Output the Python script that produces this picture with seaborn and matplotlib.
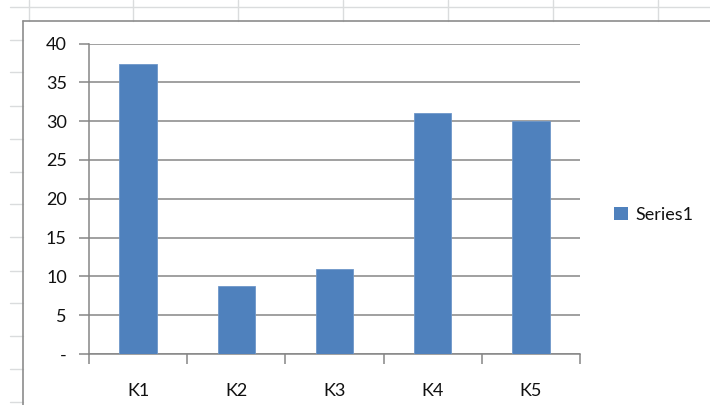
import matplotlib
matplotlib.use("Agg")
import matplotlib.pyplot as plt
from matplotlib.lines import Line2D
from matplotlib.patches import Patch
import seaborn as sns
import pandas as pd

categories = ["K1", "K2", "K3", "K4", "K5"]
values = [37.3, 8.8, 11.0, 31.0, 30.0]
series_name = "Series1"
y_ticks = [0, 5, 10, 15, 20, 25, 30, 35, 40]
y_tick_labels = ["-", "5", "10", "15", "20", "25", "30", "35", "40"]

sns.set_style("white")
plt.rcParams["font.family"] = ["Lato", "DejaVu Sans"]

W, H = 710, 405
fig = plt.figure(figsize=(W / 100, H / 100), dpi=100)
fig.patch.set_facecolor("white")

def fx(px):
    return px / W

def fy(py):
    return 1 - py / H

# Spreadsheet background grid
light = "#dadcdd"
fig.add_artist(Line2D([fx(10), fx(710)], [fy(7), fy(7)], color=light, lw=1))
for x in [29, 133, 238, 343, 448, 553, 658]:
    fig.add_artist(Line2D([fx(x), fx(x)], [fy(0), fy(21)], color=light, lw=1))
for y in [40, 72, 106, 139, 172, 204, 237, 271, 303, 336, 369, 402]:
    fig.add_artist(Line2D([fx(10), fx(23)], [fy(y), fy(y)], color=light, lw=1))
# Chart frame
frame = "#8c8c8c"
fig.add_artist(Line2D([fx(23), fx(710)], [fy(21), fy(21)], color=frame, lw=1.2))
fig.add_artist(Line2D([fx(23), fx(23)], [fy(21), fy(405)], color=frame, lw=1.2))

ax = fig.add_axes([fx(89), fy(354), fx(580) - fx(89), fy(43.5) - fy(354)])
df = pd.DataFrame({"cat": categories, "val": values})
sns.barplot(data=df, x="cat", y="val", color="#4F81BD", width=0.38,
            saturation=1, ax=ax, zorder=3, edgecolor="#6f97c9", linewidth=0.6)

ax.set_ylim(0, 40)
ax.set_xlim(-0.5, len(categories) - 0.5)
ax.set_yticks(y_ticks)
ax.set_yticklabels(y_tick_labels)
ax.set_xlabel("")
ax.set_ylabel("")

axis_c = "#868686"
ax.yaxis.grid(True, color=axis_c, lw=1.1, zorder=0)
ax.set_axisbelow(True)
for s in ["top", "right"]:
    ax.spines[s].set_visible(False)
for s in ["left", "bottom"]:
    ax.spines[s].set_color(axis_c)
    ax.spines[s].set_linewidth(1.1)

fs = 13
ax.tick_params(axis="y", which="major", length=7, width=1.1, color=axis_c,
               labelsize=fs, pad=9, labelcolor="#111111", left=True)
ax.set_xticks([i for i in range(len(categories))])
ax.set_xticklabels(categories)
ax.tick_params(axis="x", which="major", length=0, labelsize=fs, pad=21,
               labelcolor="#111111")
ax.set_xticks([i - 0.5 for i in range(len(categories) + 1)], minor=True)
ax.tick_params(axis="x", which="minor", length=7, width=1.1, color=axis_c,
               bottom=True)

handle = Patch(facecolor="#4F81BD", edgecolor="none")
leg = fig.legend([handle], [series_name], loc="center left",
                 bbox_to_anchor=(fx(614), fy(215)), frameon=False,
                 handlelength=0.75, handleheight=0.75, handletextpad=0.45,
                 fontsize=fs, borderpad=0, borderaxespad=0)
for t in leg.get_texts():
    t.set_color("#111111")

fig.savefig("out.png", dpi=100)
